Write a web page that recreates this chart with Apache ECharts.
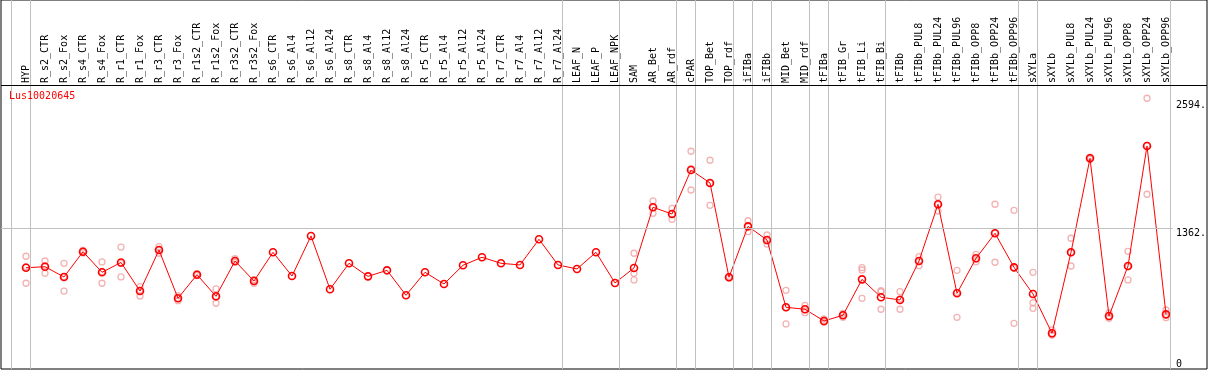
<!DOCTYPE html>
<html>
<head>
<meta charset="utf-8">
<script src="https://cdn.jsdelivr.net/npm/echarts@6/dist/echarts.min.js"></script>
<style>
html,body{margin:0;padding:0;background:#fff;}
#chart{width:1209px;height:370px;}
</style>
</head>
<body>
<div id="chart"></div>
<script>
const title = 'Lus10020645';
const categories = ['HYP','R_s2_CTR','R_s2_Fox','R_s4_CTR','R_s4_Fox','R_r1_CTR','R_r1_Fox','R_r3_CTR','R_r3_Fox','R_r1s2_CTR','R_r1s2_Fox','R_r3s2_CTR','R_r3s2_Fox','R_s6_CTR','R_s6_Al4','R_s6_Al12','R_s6_Al24','R_s8_CTR','R_s8_Al4','R_s8_Al12','R_s8_Al24','R_r5_CTR','R_r5_Al4','R_r5_Al12','R_r5_Al24','R_r7_CTR','R_r7_Al4','R_r7_Al12','R_r7_Al24','LEAF_N','LEAF_P','LEAF_NPK','SAM','AR_Bet','AR_rdf','cPAR','TOP_Bet','TOP_rdf','iFIBa','iFIBb','MID_Bet','MID_rdf','tFIBa','tFIB_Gr','tFIB_Li','tFIB_Bi','tFIBb','tFIBb_PUL8','tFIBb_PUL24','tFIBb_PUL96','tFIBb_OPP8','tFIBb_OPP24','tFIBb_OPP96','sXYLa','sXYLb','sXYLb_PUL8','sXYLb_PUL24','sXYLb_PUL96','sXYLb_OPP8','sXYLb_OPP24','sXYLb_OPP96'];
const means = [978,988,889,1133,934,1029,753,1149,683,911,702,1043,850,1127,898,1285,770,1021,895,953,712,934,821,1002,1079,1021,1005,1253,1005,966,1127,831,976,1562,1497,1922,1797,886,1378,1246,596,577,464,519,866,693,667,1043,1591,731,1069,1311,982,724,345,1127,2035,512,995,2154,528];
const rep1 = [1089,1043,1021,1145,1034,1178,795,1181,708,920,773,1065,862,null,null,null,null,null,null,null,null,null,null,null,null,null,null,null,null,null,null,null,1118,1623,1552,2103,2016,895,1432,1294,760,614,483,538,979,756,747,1085,1661,953,1108,1591,1533,934,377,1263,2045,541,1137,2615,570];
const rep2 = [988,997,893,1133,940,1020,759,1148,681,911,698,1034,860,null,null,null,null,null,null,null,null,null,null,null,null,null,null,null,null,null,null,null,924,1559,1493,1934,1794,886,1376,1237,593,573,458,520,956,746,677,1046,1586,741,1062,1311,972,640,330,1123,2035,505,988,2159,518];
const rep3 = [828,924,753,1121,828,889,705,1118,660,902,635,1030,828,null,null,null,null,null,null,null,null,null,null,null,null,null,null,null,null,null,null,null,860,1504,1446,1729,1581,878,1326,1207,435,544,451,499,683,577,577,998,1526,499,1037,1031,441,586,328,995,2025,490,860,1688,496];
const yTickValues = [1362, 2594];
const yZeroTick = [0];
const gridValue = 1362;
const groupEnds = [-1,0,28,31,34,35,37,38,39,41,42,45,52,53,60];

const FONT = 'DejaVu Sans Mono';
const YMAX = 2743;
const STEP = 19, FIRST = 26, L = 1, R = 1207, PR = 1176;

const repData = [];
[rep1, rep2, rep3].forEach(arr => arr.forEach((v, i) => { if (v != null) repData.push([i, v]); }));

const chart = echarts.init(document.getElementById('chart'), null, {renderer: 'canvas'});
const option = {
  animation: false,
  backgroundColor: '#fff',
  title: {
    text: title, left: 9, top: 91, padding: 0,
    textStyle: {color: '#ff0000', fontFamily: FONT, fontSize: 10, fontWeight: 'normal'}
  },
  grid: [
    {left: L, top: 0, width: R - L, height: 369, show: true, borderColor: '#000', borderWidth: 1, backgroundColor: 'transparent'},
    {left: L, top: 85, width: PR - L, height: 284},
    {left: FIRST - STEP / 2, top: 85, width: STEP * categories.length, height: 284}
  ],
  xAxis: [
    {gridIndex: 0, type: 'value', show: false, min: (L - FIRST) / STEP, max: (R - FIRST) / STEP},
    {gridIndex: 1, type: 'value', show: false, min: (L - FIRST) / STEP, max: (PR - FIRST) / STEP},
    {gridIndex: 2, type: 'category', position: 'top', data: categories, boundaryGap: true,
     axisLine: {show: false}, axisTick: {show: false}, splitLine: {show: false},
     axisLabel: {interval: 0, rotate: 90, margin: 2, color: '#000', fontFamily: FONT, fontSize: 10}}
  ],
  yAxis: [
    {gridIndex: 0, type: 'value', show: false, min: -284, max: 85},
    {gridIndex: 1, type: 'value', position: 'right', min: 0, max: YMAX,
     axisLine: {show: false}, axisTick: {show: false}, splitLine: {show: false},
     axisLabel: {customValues: yTickValues, margin: 3, verticalAlign: 'top', color: '#000', fontFamily: FONT, fontSize: 10,
                 formatter: v => v + '.'}},
    {gridIndex: 1, type: 'value', position: 'right', min: 0, max: YMAX,
     axisLine: {show: false}, axisTick: {show: false}, splitLine: {show: false},
     axisLabel: {customValues: yZeroTick, margin: 3, verticalAlign: 'bottom', color: '#000', fontFamily: FONT, fontSize: 10,
                 formatter: v => String(v)}},
    {gridIndex: 2, type: 'value', show: false, min: 0, max: YMAX}
  ],
  series: [
    {type: 'line', xAxisIndex: 0, yAxisIndex: 0, data: [], silent: true,
     markLine: {silent: true, symbol: 'none', label: {show: false}, animation: false,
       lineStyle: {color: '#c0c0c0', width: 1, type: 'solid'},
       data: groupEnds.map(d => ({xAxis: d + 0.23})).concat([{yAxis: 0, lineStyle: {color: '#000', width: 1, type: 'solid'}}])}},
    {type: 'line', xAxisIndex: 1, yAxisIndex: 1, data: [], silent: true,
     markLine: {silent: true, symbol: 'none', label: {show: false}, animation: false,
       lineStyle: {color: '#c0c0c0', width: 1, type: 'solid'},
       data: [{yAxis: gridValue}]}},
    {type: 'scatter', xAxisIndex: 2, yAxisIndex: 3, data: repData, symbol: 'circle', symbolSize: 6, z: 3,
     itemStyle: {color: 'transparent', borderColor: '#f0a0a0', borderWidth: 1.3}},
    {type: 'line', xAxisIndex: 2, yAxisIndex: 3, data: means, symbol: 'circle', symbolSize: 7, z: 4,
     showAllSymbol: true,
     lineStyle: {color: '#ff0000', width: 1},
     itemStyle: {color: 'transparent', borderColor: '#ff0000', borderWidth: 1.6}}
  ]
};
chart.setOption(option);
</script>
</body>
</html>
